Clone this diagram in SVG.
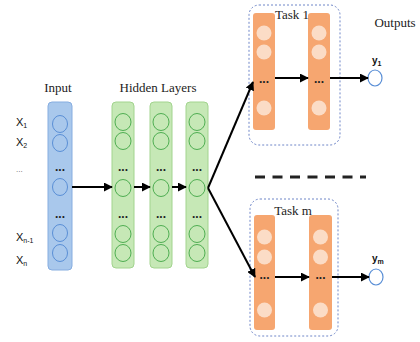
<svg xmlns="http://www.w3.org/2000/svg" width="420" height="342" viewBox="0 0 420 342">
<defs>
<marker id="ah" viewBox="0 0 10 10" refX="9" refY="5" markerWidth="4.5" markerHeight="4.5" orient="auto" markerUnits="strokeWidth">
<path d="M0,0 L10,5 L0,10 z" fill="#000"/>
</marker>
<style>
.in{fill:#a9c8ec;stroke:#86ade0;stroke-width:1}
.inc{fill:none;stroke:#5a8fd6;stroke-width:1}
.hid{fill:#c6e8b6;stroke:#a2d48e;stroke-width:1}
.hc{fill:none;stroke:#4fae52;stroke-width:1}
.or{fill:#f6a670;stroke:none}
.oc{fill:#fbdcc6;stroke:none}
.box{fill:none;stroke:#6f86c8;stroke-width:1;stroke-dasharray:2,2}
.lbl{font-family:"Liberation Serif",serif;font-size:13px;fill:#222}
.x{font-family:"Liberation Sans",sans-serif;font-size:11px;fill:#111}
.sub{font-size:7px}
.dots{font-family:"Liberation Sans",sans-serif;font-size:12px;font-weight:bold;fill:#222;text-anchor:middle}
.c{stroke:#000;stroke-width:2;fill:none;marker-end:url(#ah)}
.out{fill:#fff;stroke:#5a8fd6;stroke-width:1.2}
</style>
</defs>
<rect width="420" height="342" fill="#fff"/>

<g id="input">
<text class="lbl" x="58" y="92" text-anchor="middle">Input</text>
<rect class="in" x="48" y="102" width="24" height="168" rx="4"/>
<ellipse class="inc" cx="60" cy="124" rx="7.5" ry="8.5"/>
<ellipse class="inc" cx="60" cy="143" rx="7.5" ry="8.5"/>
<text class="dots" x="60" y="171">...</text>
<ellipse class="inc" cx="60" cy="187" rx="7.5" ry="8.5"/>
<text class="dots" x="60" y="218">...</text>
<ellipse class="inc" cx="60" cy="233" rx="7.5" ry="8.5"/>
<ellipse class="inc" cx="60" cy="253" rx="7.5" ry="8.5"/>
<text class="x" x="16" y="126">X<tspan class="sub" dy="2">1</tspan></text>
<text class="x" x="16" y="146">X<tspan class="sub" dy="2">2</tspan></text>
<text class="x" x="16" y="172" style="font-size:8px;fill:#666">...</text>
<text class="x" x="16" y="241">X<tspan class="sub" dy="2">n-1</tspan></text>
<text class="x" x="16" y="264">X<tspan class="sub" dy="2">n</tspan></text>
</g>

<g id="hidden">
<text class="lbl" x="158" y="92" text-anchor="middle">Hidden Layers</text>
<g id="h1">
<rect class="hid" x="112" y="102" width="22" height="166" rx="4"/>
<ellipse class="hc" cx="123" cy="122" rx="8" ry="8.5"/>
<ellipse class="hc" cx="123" cy="141" rx="8" ry="8.5"/>
<text class="dots" x="123" y="171">...</text>
<ellipse class="hc" cx="123" cy="188" rx="8" ry="8.5"/>
<text class="dots" x="123" y="218">...</text>
<ellipse class="hc" cx="123" cy="234" rx="8" ry="8.5"/>
<ellipse class="hc" cx="123" cy="253" rx="8" ry="8.5"/>
</g>
<g id="h2">
<rect class="hid" x="150" y="102" width="22" height="166" rx="4"/>
<ellipse class="hc" cx="161" cy="122" rx="8" ry="8.5"/>
<ellipse class="hc" cx="161" cy="141" rx="8" ry="8.5"/>
<text class="dots" x="161" y="171">...</text>
<ellipse class="hc" cx="161" cy="188" rx="8" ry="8.5"/>
<text class="dots" x="161" y="218">...</text>
<ellipse class="hc" cx="161" cy="234" rx="8" ry="8.5"/>
<ellipse class="hc" cx="161" cy="253" rx="8" ry="8.5"/>
</g>
<g id="h3">
<rect class="hid" x="186" y="102" width="22" height="166" rx="4"/>
<ellipse class="hc" cx="197" cy="122" rx="8" ry="8.5"/>
<ellipse class="hc" cx="197" cy="141" rx="8" ry="8.5"/>
<text class="dots" x="197" y="171">...</text>
<ellipse class="hc" cx="197" cy="188" rx="8" ry="8.5"/>
<text class="dots" x="197" y="218">...</text>
<ellipse class="hc" cx="197" cy="234" rx="8" ry="8.5"/>
<ellipse class="hc" cx="197" cy="253" rx="8" ry="8.5"/>
</g>
</g>

<g id="task1">
<rect class="box" x="249" y="5" width="91" height="140" rx="10"/>
<rect class="or" x="253" y="13" width="22" height="117" rx="3"/>
<rect class="or" x="308" y="13" width="22" height="117" rx="3"/>
<text class="lbl" x="292" y="19" text-anchor="middle">Task 1</text>
<circle class="oc" cx="264" cy="33" r="7.5"/>
<circle class="oc" cx="264" cy="52" r="7.5"/>
<text class="dots" x="264" y="83">...</text>
<circle class="oc" cx="264" cy="108" r="7.5"/>
<circle class="oc" cx="319" cy="33" r="7.5"/>
<circle class="oc" cx="319" cy="52" r="7.5"/>
<text class="dots" x="319" y="83">...</text>
<circle class="oc" cx="319" cy="108" r="7.5"/>
</g>

<g id="taskm">
<rect class="box" x="250" y="199" width="88" height="137" rx="10"/>
<rect class="or" x="254" y="215" width="21" height="115" rx="3"/>
<rect class="or" x="309" y="215" width="23" height="115" rx="3"/>
<text class="lbl" x="293" y="215" text-anchor="middle">Task m</text>
<circle class="oc" cx="264.5" cy="237" r="7.5"/>
<circle class="oc" cx="264.5" cy="257" r="7.5"/>
<text class="dots" x="264.5" y="279">...</text>
<circle class="oc" cx="264.5" cy="310" r="7.5"/>
<circle class="oc" cx="320.5" cy="237" r="7.5"/>
<circle class="oc" cx="320.5" cy="257" r="7.5"/>
<text class="dots" x="320.5" y="279">...</text>
<circle class="oc" cx="320.5" cy="310" r="7.5"/>
</g>

<g id="outputs">
<text class="lbl" x="395" y="27" text-anchor="middle">Outputs</text>
<ellipse id="y1" class="out" cx="375" cy="78" rx="7" ry="8"/>
<text class="x" x="372" y="64" style="font-weight:bold;font-size:10px">y<tspan class="sub" dy="2">1</tspan></text>
<ellipse id="ym" class="out" cx="376" cy="277" rx="7" ry="8"/>
<text class="x" x="372" y="262" style="font-weight:bold;font-size:10px">y<tspan class="sub" dy="2">m</tspan></text>
</g>

<g id="separator">
<line x1="255" y1="177" x2="366" y2="177" stroke="#222" stroke-width="3" stroke-dasharray="10,7.5"/>
</g>

<g id="connectors">
<line class="c" x1="72" y1="187" x2="112" y2="187"/>
<line class="c" x1="134" y1="187" x2="150" y2="187"/>
<line class="c" x1="172" y1="187" x2="186" y2="187"/>
<line class="c" x1="208" y1="188" x2="253" y2="82"/>
<line class="c" x1="208" y1="188" x2="255" y2="277"/>
<line class="c" x1="275" y1="78" x2="308" y2="78"/>
<line class="c" x1="330" y1="78" x2="368" y2="78"/>
<line class="c" x1="275" y1="277" x2="309" y2="277"/>
<line class="c" x1="332" y1="277" x2="369" y2="277"/>
</g>
</svg>
